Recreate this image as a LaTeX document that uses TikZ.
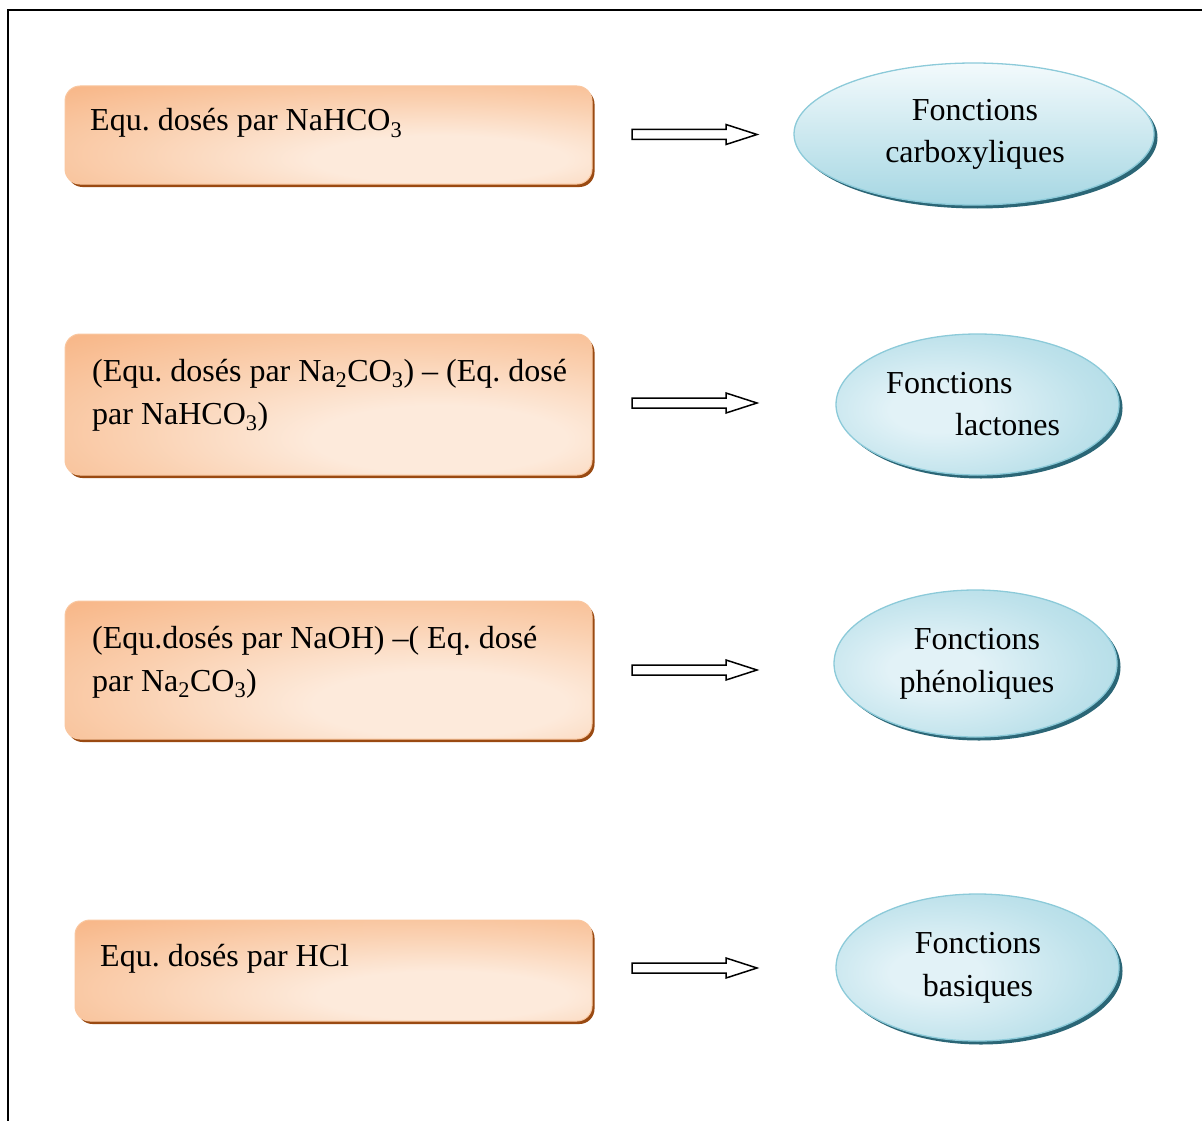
\documentclass[tikz,border=0pt]{standalone}
\usepackage{fontspec}
\setmainfont{Liberation Serif}
\usetikzlibrary{shapes.geometric,shadows}
\frenchspacing

\definecolor{boxOrange}{HTML}{F8B88A}
\definecolor{boxMid}{HTML}{FAD0B0}
\definecolor{boxLight}{HTML}{FDEADB}
\definecolor{boxEdge}{HTML}{F9C7A0}
\definecolor{boxShadow}{HTML}{9A4A12}
\definecolor{ellTop}{HTML}{F3FAFC}
\definecolor{ellCore}{HTML}{E2F2F7}
\definecolor{ellBottom}{HTML}{A6D7E3}
\definecolor{ellEdge}{HTML}{8CCAD9}
\definecolor{ellShadow}{HTML}{2B6676}

% warm glow centred low and to the right of each box
\pgfdeclareradialshading{boxglow}{\pgfpoint{12bp}{-14bp}}{%
  color(0bp)=(boxLight); color(12bp)=(boxLight); color(28bp)=(boxMid);
  color(44bp)=(boxOrange); color(100bp)=(boxOrange)}
% pale core slightly left of centre in the ellipses
\pgfdeclareradialshading{ellglow}{\pgfpoint{-8bp}{-2bp}}{%
  color(0bp)=(ellCore); color(8bp)=(ellCore); color(26bp)=(ellBottom!60!ellCore);
  color(42bp)=(ellBottom); color(100bp)=(ellBottom)}

\tikzset{
  obox/.style={rectangle, rounded corners=15pt, inner sep=0pt,
    draw=boxEdge, line width=1pt, shading=boxglow,
    drop shadow={shadow xshift=2.5pt, shadow yshift=-3pt, fill=boxShadow, opacity=1}},
  bellbase/.style={ellipse, inner sep=0pt, draw=ellEdge, line width=1.3pt,
    drop shadow={shadow xshift=3.5pt, shadow yshift=-3.5pt, fill=ellShadow, opacity=1}},
  bellv/.style={bellbase, top color=ellTop, bottom color=ellBottom},
  bellr/.style={bellbase, shading=ellglow},
  txt/.style={inner sep=0pt, font=\fontsize{32}{43}\selectfont},
  arrline/.style={draw=black, line width=1.5pt, fill=white, line join=miter},
  blockarr/.pic={\path[arrline] (0,-5) -- (94,-5) -- (94,-10) -- (125,0)
      -- (94,10) -- (94,5) -- (0,5) -- cycle;}
}

\begin{document}
\begin{tikzpicture}[x=1pt, y=-1pt]
\useasboundingbox (0,0) rectangle (1202,1121);

% frame
\draw[line width=2.5pt] (8,1121) -- (8,10) -- (1202,10);

% left boxes
\node[obox, minimum width=527pt, minimum height=98pt]  (b1) at (328.5,135) {};
\node[obox, minimum width=527pt, minimum height=141pt] (b2) at (328.5,404.5) {};
\node[obox, minimum width=527pt, minimum height=138pt] (b3) at (328.5,670) {};
\node[obox, minimum width=517pt, minimum height=101pt] (b4) at (333.5,970.5) {};

\node[txt, anchor=base west] (t1) at (90,131) {Equ. dosés par NaHCO\textsubscript{3}};
\node[txt, anchor=base west] (t2a) at (92,381) {(Equ. dosés par Na\textsubscript{2}CO\textsubscript{3}) – (Eq. dosé};
\node[txt, anchor=base west] (t2b) at (92,424) {par NaHCO\textsubscript{3})};
\node[txt, anchor=base west] (t3a) at (92,648) {(Equ.dosés par NaOH) –( Eq. dosé};
\node[txt, anchor=base west] (t3b) at (92,691) {par Na\textsubscript{2}CO\textsubscript{3})};
\node[txt, anchor=base west] (t4) at (100,966) {Equ. dosés par HCl};

% right ellipses
\node[bellv, minimum width=360pt, minimum height=142pt] (e1) at (974,134) {};
\node[bellr, minimum width=283pt, minimum height=141pt] (e2) at (977.5,404.5) {};
\node[bellr, minimum width=283pt, minimum height=147pt] (e3) at (975.5,663.5) {};
\node[bellr, minimum width=283pt, minimum height=147pt] (e4) at (977.5,967.5) {};

\node[txt, anchor=base] (f1a) at (975,121) {Fonctions};
\node[txt, anchor=base] (f1b) at (975,163) {carboxyliques};
\node[txt, anchor=base west] (f2a) at (886,393) {Fonctions};
\node[txt, anchor=base west] (f2b) at (955,435) {lactones};
\node[txt, anchor=base] (f3a) at (977,649) {Fonctions};
\node[txt, anchor=base] (f3b) at (977,692) {phénoliques};
\node[txt, anchor=base] (f4a) at (978,953) {Fonctions};
\node[txt, anchor=base] (f4b) at (978,996) {basiques};

% block arrows between the columns
\pic at (632,134.5) {blockarr};
\pic at (632,403) {blockarr};
\pic at (632,670) {blockarr};
\pic at (632,968) {blockarr};
\end{tikzpicture}
\end{document}
